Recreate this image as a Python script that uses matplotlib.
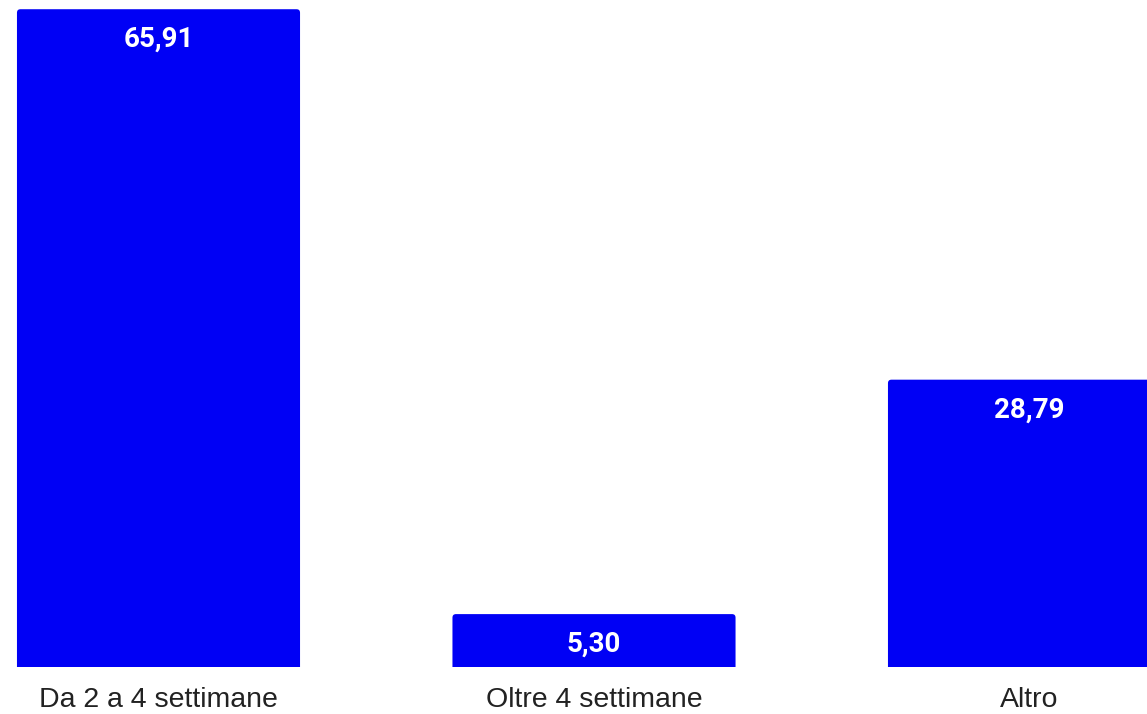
import matplotlib
matplotlib.use("Agg")
import matplotlib.pyplot as plt
from matplotlib.patches import FancyBboxPatch

categories = ["Da 2 a 4 settimane", "Oltre 4 settimane", "Altro"]
values = [65.91, 5.30, 28.79]

W, H = 1147, 714
fig = plt.figure(figsize=(W / 100, H / 100), dpi=100)
fig.patch.set_facecolor("white")
base_px = 47
ax = fig.add_axes([0, base_px / H, 1, (H - base_px) / H])
px_per_unit_y = 9.98
px_per_unit_x = 435.5
ax.set_ylim(0, (H - base_px) / px_per_unit_y)
ax.set_xlim(-158.5 / px_per_unit_x, (W - 158.5) / px_per_unit_x)
ax.axis("off")

color = "#0000f5"
x = list(range(len(categories)))
bars = ax.bar(x, values, width=0.65, color=color)
r_px = 3.5
rx = r_px / px_per_unit_x
ry = r_px / px_per_unit_y
for b, v in zip(bars, values):
    b.set_visible(False)
    x0 = b.get_x()
    w = b.get_width()
    p = FancyBboxPatch((x0, -2), w, v + 2,
                       boxstyle=f"round,pad=0,rounding_size={rx}",
                       mutation_aspect=ry / rx,
                       facecolor=color, edgecolor="none", clip_on=True)
    ax.add_patch(p)
    ax.annotate(f"{v:.2f}".replace(".", ","), (b.get_x() + w / 2, v),
                xytext=(0, -30), textcoords="offset pixels",
                ha="center", va="center", color="white",
                fontsize=20, fontweight="bold", family="Roboto")

for xi, c in zip(x, categories):
    ax.annotate(c, (xi, 0), xytext=(0, -33), textcoords="offset pixels",
                ha="center", va="center", color="#222222",
                fontsize=20.5, family="Liberation Sans", annotation_clip=False)

fig.savefig("out.png", dpi=100, facecolor="white")
